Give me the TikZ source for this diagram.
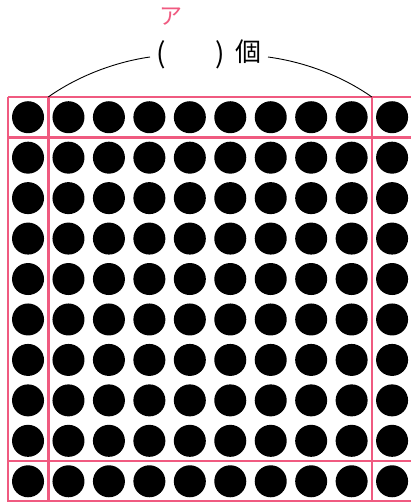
\documentclass[tikz,border=0pt]{standalone}
\usepackage{fontspec}
\newfontfamily\jp{Noto Sans CJK JP}
\definecolor{frame}{HTML}{F05A80}
\begin{document}
\begin{tikzpicture}[x=1pt,y=-1pt,
  dot/.style={circle,fill=black,inner sep=0pt,minimum size=32pt},
  pinkline/.style={draw=frame,line width=2.6pt},
  brace/.style={draw=black,line width=0.9pt},
  lbl/.style={inner sep=0pt,font=\jp\fontsize{26}{26}\selectfont}]
\useasboundingbox (0,0) rectangle (411,502);
\def\p{40.45}
\def\xo{7.8}
\def\yo{97}
% dots
\foreach \i in {1,...,10}{
  \foreach \j in {1,...,10}{
    \node[dot] (d-\i-\j) at ({\xo+(\i-0.5)*\p},{\yo+(\j-0.5)*\p}) {};
  }
}
% pink frames
\coordinate (tl) at (\xo,\yo);
\coordinate (a) at ({\xo+\p},\yo);
\coordinate (b) at ({\xo+9*\p},\yo);
\foreach \k in {0,1,9,10}{
  \draw[pinkline] (\xo,{\yo+\k*\p}) -- (420,{\yo+\k*\p});
}
\foreach \k in {0,1,9,10}{
  \draw[pinkline] ({\xo+\k*\p},\yo) -- ({\xo+\k*\p},510);
}
% labels
\node[lbl,font=\jp\fontsize{28}{28}\selectfont] (lp) at (161,55) {(};
\node[lbl,font=\jp\fontsize{28}{28}\selectfont] (rp) at (220,55) {)};
\node[lbl] (ko) at (248,52) {個};
\node[lbl,text=frame,font=\jp\fontsize{23}{23}\selectfont] (ans) at (171,17) {ア};
% connectors
\draw[brace] (a) .. controls (78,76) and (115,62) .. (150,57);
\draw[brace] (268,57) .. controls (305,62) and (342,76) .. (b);
\end{tikzpicture}
\end{document}
